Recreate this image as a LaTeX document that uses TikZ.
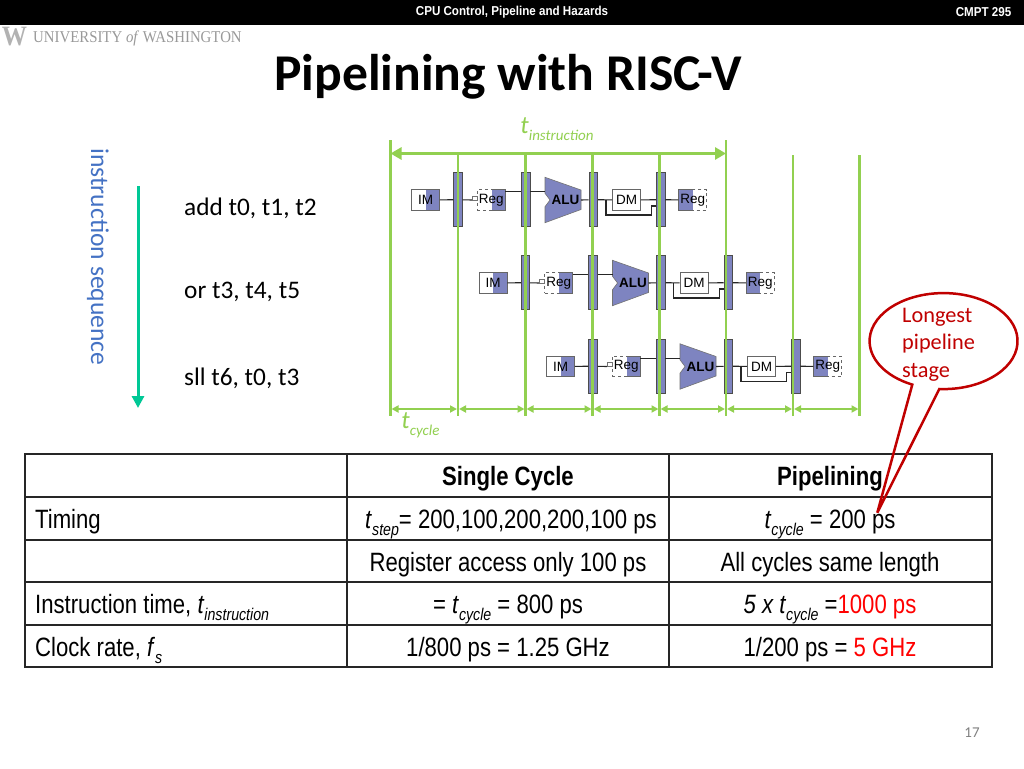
\documentclass[tikz,border=0pt]{standalone}
\usepackage{fontspec}
\usepackage{xcolor}
\usetikzlibrary{arrows.meta}
\setmainfont{Carlito}
\newfontfamily\tablefont[FakeStretch=0.835]{Liberation Sans}
\newfontfamily\headfont[FakeStretch=0.9]{Liberation Sans}
\newfontfamily\unitfont{Liberation Sans}
\newfontfamily\uwfont[FakeStretch=0.9]{Liberation Serif}
\definecolor{stagegreen}{HTML}{92D050}
\definecolor{stagepurple}{HTML}{7E84C0}
\definecolor{seqblue}{HTML}{4472C4}
\definecolor{seqteal}{HTML}{00C896}
\definecolor{noteRed}{HTML}{C00000}
\newcommand{\px}[1]{\fontsize{#1}{#1}\selectfont}
\newcommand{\lowsub}[2]{\raisebox{-0.28em}{\px{#1}\itshape #2}}
\tikzset{
  stagebox/.style={draw=black!60, line width=0.8pt, minimum width=28pt, minimum height=20.7pt, inner sep=0pt, font=\unitfont\px{13.5}},
  pipereg/.style={draw=black!70, fill=stagepurple, line width=0.8pt, minimum width=8.6pt, minimum height=54pt, inner sep=0pt},
  wire/.style={black!85, line width=1.1pt},
  cell/.style={anchor=base, inner sep=0pt, font=\tablefont\px{26.5}},
  cellleft/.style={cell, anchor=base west},
  instr/.style={anchor=base west, inner sep=0pt, font=\px{25.3}},
  greenlabel/.style={text=stagegreen, inner sep=0pt, anchor=base, font=\itshape\px{25}}
}
\begin{document}
\begin{tikzpicture}[x=1pt,y=1pt]
\path[use as bounding box] (0,0) rectangle (1024,-768);
\fill[white] (0,0) rectangle (1024,-768);

% header
\fill[black] (0,0) rectangle (1024,-25);
\node[text=white, inner sep=0pt, font=\headfont\bfseries\px{12.9}] (headline) at (512,-12.5) {CPU Control, Pipeline and Hazards};
\node[text=white, inner sep=0pt, font=\headfont\bfseries\px{12.9}] (course) at (983.5,-12.5) {CMPT 295};
\node[text=black!30, inner sep=0pt, font=\uwfont\bfseries\px{28}] (uwmark) at (14.5,-37) {W};
\node[text=black!40, anchor=west, inner sep=0pt, font=\uwfont\px{16.5}] (uwname) at (33,-38.5) {UNIVERSITY \textit{of} WASHINGTON};
\node[inner sep=0pt, font=\bfseries\px{51.6}] (title) at (508,-77) {Pipelining with RISC-V};

% instruction sequence
\node[text=seqblue, rotate=-90, inner sep=0pt, font=\px{25.6}] (seq) at (98,-257) {instruction sequence};
\coordinate (seqtop) at (138,-186);
\coordinate (seqend) at (138,-408);
\draw[seqteal, line width=3pt, -{Triangle[length=12pt,width=12pt]}] (seqtop) -- (seqend);
\node[instr] (add) at (184,-215) {add t0, t1, t2};
\node[instr] (or) at (184,-298) {or t3, t4, t5};
\node[instr] (sll) at (184,-385) {sll t6, t0, t3};

% three rows of stages
\foreach \r/\dx/\dy in {a/0/0, b/67.5/83, c/135/166.5}
{
\begin{scope}[shift={(\dx,-\dy)}]
\fill[stagepurple] (425.7,-189.6) rectangle (439.3,-210.3);
\fill[stagepurple] (491.7,-189.6) rectangle (505,-210.3);
\fill[stagepurple] (678.7,-189.6) rectangle (692.7,-210.3);
\node[stagebox] (im\r) at (425.5,-200) {IM};
\node[stagebox, dashed] (rd\r) at (491.2,-200) {Reg};
\node[stagebox] (dm\r) at (626.5,-200) {DM};
\node[stagebox, dashed] (wb\r) at (692.7,-200) {Reg};
\draw[draw=black!60, line width=0.8pt] (491.7,-189.6) -| (505,-210.3) -- (491.7,-210.3);
\draw[draw=black!60, line width=0.8pt] (692.7,-189.6) -| (678.7,-210.3) -- (692.7,-210.3);
\node[pipereg] (p1\r) at (458,-199.7) {};
\node[pipereg] (p2\r) at (525.6,-199.7) {};
\node[pipereg] (p3\r) at (593.3,-199.7) {};
\node[pipereg] (p4\r) at (660.7,-199.7) {};
\filldraw[fill=stagepurple, draw=black!55, line width=0.6pt] (545,-177.3) -- (581,-190) -- (581,-209.5) -- (545,-222.7) -- (545,-206.7) -- (550,-200) -- (545,-193.3) -- cycle;
\node[inner sep=0pt, font=\unitfont\bfseries\px{13.5}] (alu\r) at (565.5,-200) {ALU};
\coordinate (rdin\r) at (472,-200);
\coordinate (rdout\r) at (505,-191.7);
\coordinate (aluin\r) at (545,-191.7);
\coordinate (aluout\r) at (581,-200);
\coordinate (by0\r) at (606,-200);
\coordinate (by1\r) at (606,-215);
\coordinate (by2\r) at (651.7,-215);
\coordinate (by3\r) at (651.7,-206);
\coordinate (by4\r) at (656.4,-206);
\draw[wire] (im\r) -- (p1\r);
\draw[wire] (p1\r) -- (rdin\r);
\draw[black!55, line width=0.8pt] (rdin\r) rectangle ++(5.3,4);
\draw[wire] (rdout\r) -- (rdout\r -| p2\r.west);
\draw[wire] (aluin\r -| p2\r.east) -- (aluin\r);
\draw[wire] (aluout\r) -- (p3\r);
\draw[wire] (p3\r) -- (dm\r);
\draw[wire] (dm\r) -- (p4\r);
\draw[wire] (p4\r) -- (wb\r);
\draw[wire] (by0\r) -- (by1\r) -- (by2\r) -- (by3\r) -- (by4\r);
\end{scope}
}

% cycle marks
\foreach \i/\x/\top in {0/390.5/140, 1/458/155, 2/525.5/155, 3/592.5/155, 4/659.5/155, 5/726/140, 6/793/155, 7/859.5/155}
{
\coordinate (top\i) at (\x,-\top);
\coordinate (low\i) at (\x,-416);
\coordinate (tick\i) at (\x,-409);
\draw[stagegreen, line width=2.1pt] (top\i) -- (low\i);
}
\foreach \i/\j in {0/1, 1/2, 2/3, 3/4, 4/5, 5/6, 6/7}
\draw[stagegreen, line width=1.8pt, {Triangle[length=7pt,width=7pt]}-{Triangle[length=7pt,width=7pt]}, shorten <=1pt, shorten >=1pt] (tick\i) -- (tick\j);
\coordinate (spanleft) at (390.5,-153.5);
\coordinate (spanright) at (726,-153.5);
\draw[stagegreen, line width=3.5pt, {Triangle[length=11pt,width=12pt]}-{Triangle[length=11pt,width=12pt]}] (spanleft) -- (spanright);
\node[greenlabel] (tinstr) at (557,-133) {t\lowsub{15}{instruction}};
\node[greenlabel] (tcyc) at (420.5,-428) {t\lowsub{15}{cycle}};

% table
\foreach \y in {454, 497, 540, 582, 625, 667}
\draw[black!85, line width=1.3pt] (24.4,-\y) -- (992.6,-\y);
\foreach \x in {25, 347, 669, 992}
\draw[black!85, line width=1.3pt] (\x,-454) -- (\x,-667);

\node[cell, font=\tablefont\bfseries\px{26.5}] (single) at (508,-485) {Single Cycle};
\node[cell, font=\tablefont\bfseries\px{26.5}] (piped) at (830,-485) {Pipelining};
\node[cellleft] (timing) at (35,-528) {Timing};
\node[cell] (tstep) at (511,-528) {\textit{t}\lowsub{17}{step}= 200,100,200,200,100 ps};
\node[cell] (tcycle) at (830,-528) {\textit{t}\lowsub{17}{cycle} = 200 ps};
\node[cell] (regonly) at (508,-571) {Register access only 100 ps};
\node[cell] (samelen) at (830,-571) {All cycles same length};
\node[cellleft] (insttime) at (35,-613) {Instruction time, \textit{t}\lowsub{17}{instruction}};
\node[cell] (t800) at (508,-613) {= \textit{t}\lowsub{17}{cycle} = 800 ps};
\node[cell] (t1000) at (830,-613) {\textit{5 x t}\lowsub{17}{cycle} =\textcolor{red}{1000 ps}};
\node[cellleft] (clock) at (35,-656) {Clock rate, \textit{f}\lowsub{17}{s}};
\node[cell] (ghz1) at (508,-656) {1/800 ps = 1.25 GHz};
\node[cell] (ghz5) at (830,-656) {1/200 ps = \textcolor{red}{5 GHz}};

% callout
\coordinate (tip) at (877.3,-512.7);
\draw[noteRed, line width=2.5pt, line join=miter] (tip) -- (939.3,-389) arc[start angle=-93.3, end angle=245, x radius=74, y radius=48] -- cycle;
\node[text=noteRed, anchor=north west, align=left, inner sep=0pt, font=\fontsize{22.3}{27.3}\selectfont, text width=80pt] (note) at (902,-308) {Longest\\pipeline\\stage};

\node[text=black!50, inner sep=0pt, font=\px{15}] (page) at (972,-733) {17};
\end{tikzpicture}
\end{document}
